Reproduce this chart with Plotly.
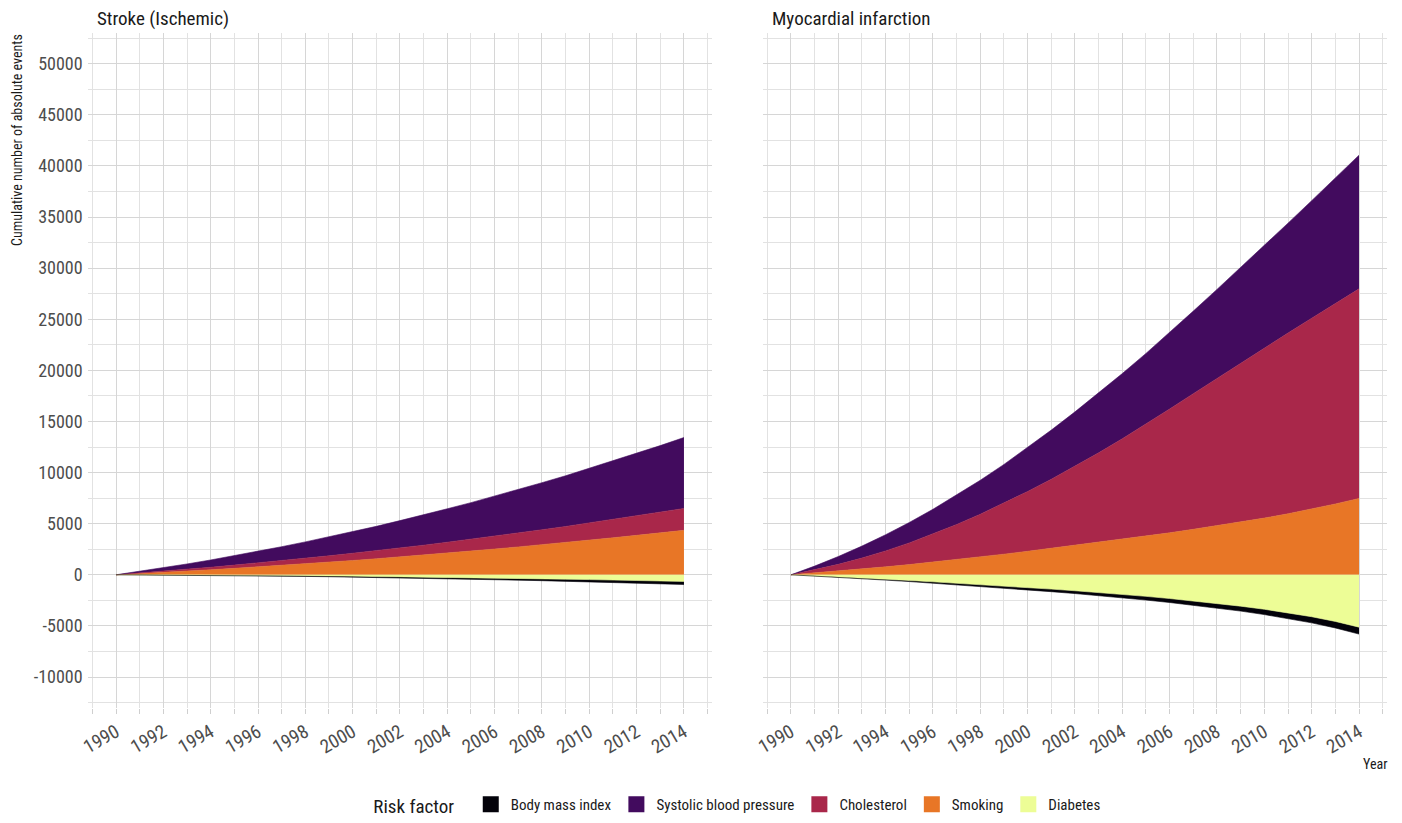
import plotly.graph_objects as go

# ---------------- data ----------------
years = list(range(1990, 2015))

risk_factors = ["Body mass index", "Systolic blood pressure", "Cholesterol", "Smoking", "Diabetes"]
colors = {
    "Body mass index": "#03020a",
    "Systolic blood pressure": "#420b5e",
    "Cholesterol": "#a9274a",
    "Smoking": "#e87626",
    "Diabetes": "#edfd96",
}

# Stroke (Ischemic)
stroke_bmi = [0, -5, -11, -18, -25, -33, -41, -50, -59, -69, -80, -91, -103, -115, -129,
              -143, -157, -172, -187, -203, -220, -237, -255, -274, -295]
stroke_sbp = [0, 160, 330, 520, 710, 920, 1130, 1360, 1600, 1850, 2110, 2380, 2670, 2960, 3270,
              3580, 3910, 4250, 4600, 4960, 5340, 5720, 6120, 6520, 6940]
stroke_chol = [0, 60, 120, 180, 250, 320, 390, 470, 550, 630, 710, 790, 880, 970, 1070,
               1160, 1260, 1360, 1470, 1570, 1680, 1790, 1910, 2020, 2140]
stroke_smoking = [0, 110, 230, 360, 490, 630, 770, 920, 1070, 1230, 1400, 1570, 1750, 1930, 2120,
                  2320, 2520, 2730, 2940, 3160, 3390, 3620, 3860, 4100, 4350]
stroke_diabetes = [0, -6, -14, -23, -35, -48, -63, -80, -99, -120, -142, -166, -192, -220, -250,
                   -282, -316, -351, -388, -427, -468, -511, -555, -602, -650]

# Myocardial infarction
mi_bmi = [0, -15, -35, -55, -80, -100, -125, -150, -175, -200, -225, -250, -275, -300, -330,
          -360, -390, -420, -450, -480, -520, -560, -600, -640, -680]
mi_sbp = [0, 370, 770, 1170, 1580, 2000, 2430, 2870, 3320, 3790, 4300, 4810, 5330, 5850, 6380,
          6920, 7480, 8080, 8700, 9340, 10030, 10750, 11500, 12280, 13080]
mi_chol = [0, 300, 650, 1070, 1560, 2120, 2740, 3430, 4180, 4990, 5850, 6760, 7730, 8750, 9830,
           10950, 12110, 13270, 14420, 15560, 16640, 17680, 18670, 19610, 20500]
mi_smoking = [0, 180, 370, 570, 780, 1000, 1240, 1490, 1750, 2020, 2300, 2590, 2880, 3180, 3480,
              3790, 4110, 4450, 4800, 5160, 5550, 5970, 6430, 6930, 7470]
mi_diabetes = [0, -100, -210, -320, -440, -560, -690, -820, -960, -1100, -1250, -1400, -1560, -1730, -1910,
               -2110, -2320, -2550, -2800, -3070, -3370, -3710, -4100, -4560, -5120]

panels = [
    ("Stroke (Ischemic)", "x", "y", {"Body mass index": stroke_bmi, "Systolic blood pressure": stroke_sbp,
                                      "Cholesterol": stroke_chol, "Smoking": stroke_smoking,
                                      "Diabetes": stroke_diabetes}),
    ("Myocardial infarction", "x2", "y2", {"Body mass index": mi_bmi, "Systolic blood pressure": mi_sbp,
                                           "Cholesterol": mi_chol, "Smoking": mi_smoking,
                                           "Diabetes": mi_diabetes}),
]

x_tick_vals = list(range(1990, 2015, 2))
y_tick_vals = list(range(-10000, 50001, 5000))

# ---------------- figure ----------------
W, H = 1402, 823
FONT = "Liberation Sans Narrow, Arial Narrow, Roboto Condensed, Liberation Sans, Arial, sans-serif"

fig = go.Figure()

pos_order = ["Smoking", "Cholesterol", "Systolic blood pressure"]
neg_order = ["Diabetes", "Body mass index"]

for pi, (title, xa, ya, series) in enumerate(panels):
    for name in pos_order:
        fig.add_trace(go.Scatter(
            x=years, y=series[name], xaxis=xa, yaxis=ya, mode="lines",
            stackgroup=f"pos{pi}", line=dict(width=0.6, color=colors[name]),
            fillcolor=colors[name], name=name, showlegend=False, hoverinfo="skip"))
    for name in neg_order:
        fig.add_trace(go.Scatter(
            x=years, y=series[name], xaxis=xa, yaxis=ya, mode="lines",
            stackgroup=f"neg{pi}", line=dict(width=0.6, color=colors[name]),
            fillcolor=colors[name], name=name, showlegend=False, hoverinfo="skip"))

# legend entries (square keys)
for name in risk_factors:
    fig.add_trace(go.Scatter(
        x=[None], y=[None], xaxis="x", yaxis="y", mode="markers", name=name,
        marker=dict(symbol="square", size=22, color=colors[name], line=dict(width=0)),
        showlegend=True, hoverinfo="skip"))

grid_major = "#d6d6d6"
grid_minor = "#e2e2e2"
ytick_font = dict(family=FONT, size=18, color="#4d4d4d")
xtick_font = dict(family=FONT, size=19, color="#4d4d4d")

def xaxis_cfg(domain):
    return dict(
        domain=domain, range=[1988.8, 2015.2], tickmode="array", tickvals=x_tick_vals,
        ticktext=[str(v) for v in x_tick_vals], tickangle=-30, tickfont=xtick_font,
        showgrid=True, gridcolor=grid_major, gridwidth=1, zeroline=False, showline=False,
        ticks="outside", ticklen=5, tickcolor="#cfcfcf", tickwidth=1,
        minor=dict(dtick=1, tick0=1990, showgrid=True, gridcolor=grid_minor, gridwidth=1,
                   ticks="outside", ticklen=5, tickcolor="#cfcfcf"),
        automargin=False, fixedrange=True,
    )

def yaxis_cfg(anchor, show_labels):
    return dict(
        domain=[0.1401, 0.9599], range=[-13000, 53000], anchor=anchor,
        tickmode="array", tickvals=y_tick_vals, ticktext=[str(v) for v in y_tick_vals],
        showticklabels=show_labels, tickfont=ytick_font, ticklabelstandoff=4,
        showgrid=True, gridcolor=grid_major, gridwidth=1, zeroline=False, showline=False,
        ticks="", minor=dict(dtick=2500, tick0=0, showgrid=True, gridcolor=grid_minor, gridwidth=1),
        automargin=False, fixedrange=True,
    )

fig.update_layout(
    width=W, height=H,
    margin=dict(l=0, r=0, t=0, b=0, autoexpand=False),
    paper_bgcolor="white", plot_bgcolor="white",
    font=dict(family=FONT, color="#1a1a1a"),
    xaxis=xaxis_cfg([0.0625, 0.5081]) | dict(anchor="y"),
    xaxis2=xaxis_cfg([0.5439, 0.9896]) | dict(anchor="y2"),
    yaxis=yaxis_cfg("x", True),
    yaxis2=yaxis_cfg("x2", False) | dict(matches="y"),
    showlegend=True,
    legend=dict(
        orientation="h", xref="container", yref="container",
        x=0.527, xanchor="center", y=0.0, yanchor="bottom",
        title=dict(text="Risk factor  ", font=dict(family=FONT, size=19, color="#1a1a1a"), side="left"),
        font=dict(family=FONT, size=15, color="#1a1a1a"),
        traceorder="normal", itemclick=False, itemdoubleclick=False,
        bgcolor="rgba(0,0,0,0)",
    ),
    annotations=[
        dict(text="Stroke (Ischemic)", xref="paper", yref="paper", x=95 / W, y=1 - 18 / H,
             xanchor="left", yanchor="middle", showarrow=False,
             font=dict(family=FONT, size=19, color="#1a1a1a")),
        dict(text="Myocardial infarction", xref="paper", yref="paper", x=770 / W, y=1 - 18 / H,
             xanchor="left", yanchor="middle", showarrow=False,
             font=dict(family=FONT, size=19, color="#1a1a1a")),
        dict(text="Cumulative number of absolute events", xref="paper", yref="paper",
             x=17 / W, y=1 - 32 / H, xanchor="center", yanchor="top", textangle=-90,
             showarrow=False, font=dict(family=FONT, size=14, color="#1a1a1a")),
        dict(text="Year", xref="paper", yref="paper", x=1389 / W, y=1 - 764 / H,
             xanchor="right", yanchor="middle", showarrow=False,
             font=dict(family=FONT, size=14, color="#1a1a1a")),
    ],
)

fig.write_html("out.html", config={"displayModeBar": False})
